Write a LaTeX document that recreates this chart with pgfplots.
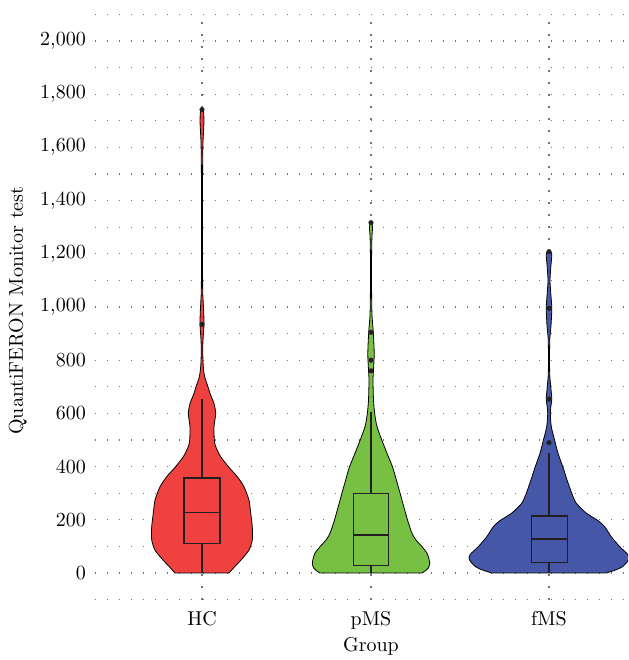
\documentclass[border=0pt]{standalone}
\usepackage{pgfplots}
\pgfplotsset{compat=1.18}
\usepackage{pgfplotstable}
\font\lmf=cmr10 at 20pt
\definecolor{cHC}{RGB}{239,66,64}
\definecolor{cpMS}{RGB}{119,192,67}
\definecolor{cfMS}{RGB}{70,87,167}
\definecolor{boxc}{RGB}{35,31,32}

% violin outlines: s = side (-1 left, +1 right), y = value, w = half width (px)
\pgfplotstableread{
s y w
-1 0 27
-1 25 33
-1 50 39.3
-1 86 47
-1 124 50.3
-1 174 50.3
-1 225 48.7
-1 274 47
-1 324 42
-1 362 35.3
-1 397 27
-1 437 18.7
-1 475 13.7
-1 500 12.3
-1 550 12
-1 600 13.7
-1 637 12
-1 675 8
-1 700 6
-1 737 2.7
-1 775 1.3
-1 820 0.8
-1 870 0.9
-1 935 2
-1 990 1.6
-1 1040 0.9
-1 1100 0.6
-1 1500 0.6
-1 1620 1
-1 1690 1.9
-1 1730 1.7
-1 1744 0.5
1 1744 0.5
1 1730 1.7
1 1690 1.9
1 1620 1
1 1500 0.6
1 1100 0.6
1 1040 0.9
1 990 1.6
1 935 2
1 870 0.9
1 820 0.8
1 775 1.3
1 737 2.7
1 700 6
1 675 8
1 637 12
1 600 13.7
1 550 12
1 500 12.3
1 475 13.7
1 437 18.7
1 397 27
1 362 35.3
1 324 42
1 274 47
1 225 48.7
1 174 50.3
1 124 50.3
1 86 47
1 50 39.3
1 25 33
1 0 27
}\hcdata

\pgfplotstableread{
s y w
-1 0 51
-1 10 55
-1 20 57.5
-1 37 58.7
-1 60 57.5
-1 75 56
-1 99 51
-1 124 45
-1 149 41
-1 197 36.7
-1 250 32.7
-1 297 29.3
-1 350 25.3
-1 397 21.7
-1 450 16
-1 498 11
-1 550 6
-1 598 3.7
-1 650 2.5
-1 725 2
-1 770 2.6
-1 820 3.2
-1 870 2.8
-1 920 2
-1 970 1
-1 1050 0.6
-1 1200 0.6
-1 1270 1
-1 1300 1.6
-1 1318 0.5
1 1318 0.5
1 1300 1.6
1 1270 1
1 1200 0.6
1 1050 0.6
1 970 1
1 920 2
1 870 2.8
1 820 3.2
1 770 2.6
1 725 2
1 650 2.5
1 598 3.7
1 550 6
1 498 11
1 450 16
1 397 21.7
1 350 25.3
1 297 29.3
1 250 32.7
1 197 36.7
1 149 41
1 124 45
1 99 51
1 75 56
1 60 57.5
1 37 58.7
1 20 57.5
1 10 55
1 0 51
}\pmsdata

\pgfplotstableread{
s y w
-1 0 57.3
-1 12 67
-1 25 74
-1 50 79.7
-1 69 79
-1 99 70.7
-1 136 62.3
-1 174 55.7
-1 197 49
-1 225 37.3
-1 262 27.3
-1 297 23
-1 350 18
-1 397 14
-1 450 9
-1 498 5.7
-1 550 2.3
-1 598 1.3
-1 630 2
-1 655 2.8
-1 690 2
-1 740 0.8
-1 800 0.5
-1 880 0.8
-1 930 2
-1 995 2.8
-1 1050 1.8
-1 1100 1
-1 1150 1.8
-1 1200 2.8
-1 1212 0.5
1 1212 0.5
1 1200 2.8
1 1150 1.8
1 1100 1
1 1050 1.8
1 995 2.8
1 930 2
1 880 0.8
1 800 0.5
1 740 0.8
1 690 2
1 655 2.8
1 630 2
1 598 1.3
1 550 2.3
1 498 5.7
1 450 9
1 397 14
1 350 18
1 297 23
1 262 27.3
1 225 37.3
1 197 49
1 174 55.7
1 136 62.3
1 99 70.7
1 69 79
1 50 79.7
1 25 74
1 12 67
1 0 57.3
}\fmsdata

\begin{document}
\begin{tikzpicture}
\begin{axis}[
  at={(95pt,60.4pt)}, anchor=south west,
  scale only axis, width=533pt, height=585.2pt,
  xmin=95, xmax=628, ymin=-100, ymax=2100,
  xtick={202,371,549}, xticklabels={HC,pMS,fMS},
  ytick={0,200,...,2000}, minor ytick={-100,100,...,2100},
  xmajorgrids, ymajorgrids, yminorgrids,
  major grid style={black!55, line width=1.1pt, dash pattern=on 1.1pt off 10.9pt},
  minor grid style={black!55, line width=1.1pt, dash pattern=on 1.1pt off 10.9pt},
  axis line style={draw=none},
  major tick length=0pt, minor tick length=0pt,
  tick label style={font=\lmf},
  /pgf/number format/assume math mode=true,
  /pgf/number format/1000 sep={,},
  yticklabel style={anchor=east, inner sep=0pt, xshift=-9pt},
  xticklabel style={anchor=base, inner sep=0pt, yshift=-26pt},
  label style={font=\lmf},
  xlabel={Group},
  xlabel style={at={(rel axis cs:0.5178,0)}, anchor=base, inner sep=0pt, yshift=-52pt},
  ylabel={QuantiFERON Monitor test},
  ylabel style={at={(rel axis cs:-0.1445,0.494)}, anchor=center, inner sep=0pt},
]
% violins
\addplot[fill=cHC, draw=black, line width=0.8pt, smooth, tension=0.4, line join=round]
  table[x expr=202+\thisrow{s}*\thisrow{w}, y=y] {\hcdata} -- cycle;
\addplot[fill=cpMS, draw=black, line width=0.8pt, smooth, tension=0.4, line join=round]
  table[x expr=371+\thisrow{s}*\thisrow{w}, y=y] {\pmsdata} -- cycle;
\addplot[fill=cfMS, draw=black, line width=0.8pt, smooth, tension=0.4, line join=round]
  table[x expr=549+\thisrow{s}*\thisrow{w}, y=y] {\fmsdata} -- cycle;

% boxes HC
\addplot[boxc, line width=1.3pt] coordinates {(184,111.6) (220,111.6) (220,357) (184,357)} -- cycle;
\addplot[boxc, line width=1.3pt] coordinates {(184,227) (220,227)};
\addplot[boxc, line width=1.3pt] coordinates {(202,0) (202,111.6)};
\addplot[boxc, line width=1.3pt] coordinates {(202,357) (202,653)};
% boxes pMS
\addplot[boxc, line width=1.3pt] coordinates {(353.3,29) (388.7,29) (388.7,300) (353.3,300)} -- cycle;
\addplot[boxc, line width=1.3pt] coordinates {(353.3,143) (388.7,143)};
\addplot[boxc, line width=1.3pt] coordinates {(371,0) (371,29)};
\addplot[boxc, line width=1.3pt] coordinates {(371,300) (371,607)};
% boxes fMS
\addplot[boxc, line width=1.3pt] coordinates {(531.5,39) (567.3,39) (567.3,214) (531.5,214)} -- cycle;
\addplot[boxc, line width=1.3pt] coordinates {(531.5,128) (567.3,128)};
\addplot[boxc, line width=1.3pt] coordinates {(549,0) (549,39)};
\addplot[boxc, line width=1.3pt] coordinates {(549,214) (549,450)};

% outliers
\addplot[only marks, mark=*, mark size=2.3pt, mark options={fill=boxc, draw=boxc}] coordinates {
(202,935) (202,1742)
(371,760) (371,800) (371,905) (371,1317)
(549,490) (549,654) (549,995) (549,1208)
};
\end{axis}
\pgfresetboundingbox
\path[use as bounding box] (0,0) rectangle (628pt,660pt);
\end{tikzpicture}
\end{document}
